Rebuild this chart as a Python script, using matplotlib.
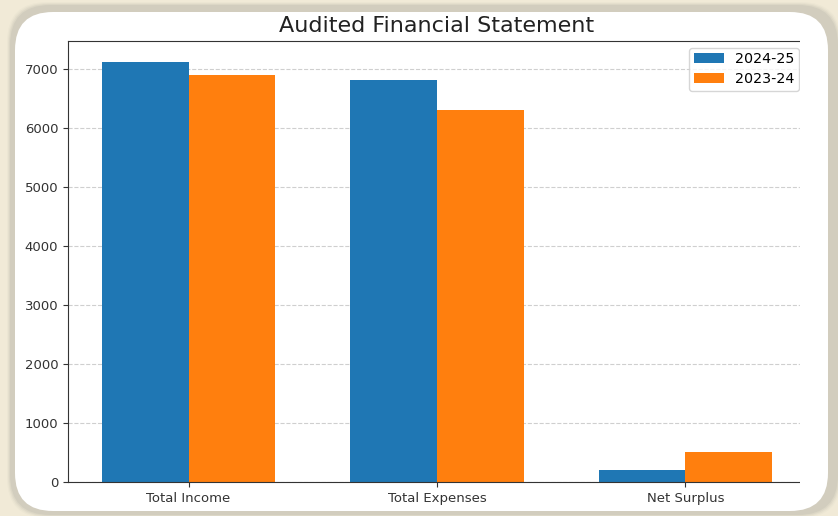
import numpy as np
import matplotlib
matplotlib.use('Agg')
import matplotlib.pyplot as plt
from matplotlib.patches import FancyBboxPatch, Rectangle

categories = ['Total Income', 'Total Expenses', 'Net Surplus']
fy_2425 = [7120, 6810, 200]
fy_2324 = [6900, 6300, 500]

W, H = 838, 516
fig = plt.figure(figsize=(W / 100, H / 100), dpi=100)
fig.patch.set_facecolor('#f1ead7')

# soft shadow + white rounded card (pixel coords, origin bottom-left)
for i, a in enumerate([0.03, 0.05, 0.07, 0.09]):
    g = 5 - i
    fig.patches.append(FancyBboxPatch((12 - g, 3 - g), 824 + 2 * g, 506 + 2 * g,
                                      boxstyle='round,pad=0,rounding_size=40',
                                      transform=None, facecolor='#707070', alpha=a,
                                      edgecolor='none', zorder=-3))
fig.patches.append(FancyBboxPatch((15, 5), 813, 499,
                                  boxstyle='round,pad=0,rounding_size=38',
                                  transform=None, facecolor='white',
                                  edgecolor='none', zorder=-2))

ax = fig.add_axes([68 / W, 34 / H, 738 / W, 441.5 / H])
ax.set_facecolor('white')

x = np.arange(len(categories))
width = 0.35
ax.bar(x - width / 2, fy_2425, width, label='2024-25', color='#1f77b4')
ax.bar(x + width / 2, fy_2324, width, label='2023-24', color='#ff7f0e')

ax.set_xticks(x)
ax.set_xticklabels(categories)
ax.set_title('Audited Financial Statement', fontsize=16, color='#222222')
ax.tick_params(labelsize=9.5, colors='#333333')
ax.grid(axis='y', linestyle='--', alpha=0.6)
ax.set_axisbelow(True)
for s in ax.spines.values():
    s.set_color('#333333')
ax.legend(fontsize=10.3, borderpad=0.3, labelspacing=0.45, handlelength=2.1,
          borderaxespad=0.5)

# the card clips the chart on the right side
fig.patches.append(Rectangle((800, 30), 23, 450, transform=None,
                             facecolor='white', edgecolor='none', zorder=10))

fig.savefig('out.png', dpi=100, facecolor=fig.get_facecolor())
